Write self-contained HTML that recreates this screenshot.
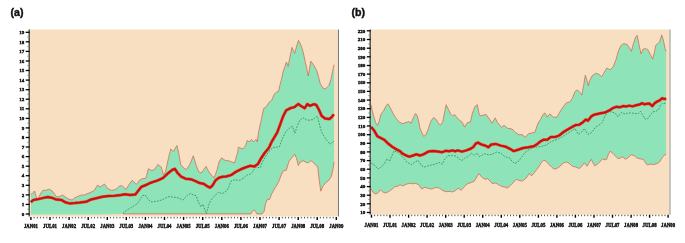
<!DOCTYPE html>
<html lang="en"><head><meta charset="utf-8"><title>Figure</title>
<style>html,body{margin:0;padding:0;background:#fff}svg{display:block}.t{font-family:"Liberation Serif",serif;font-weight:bold;fill:#111;stroke:#111;stroke-width:0.4px}.h{font-family:"Liberation Sans",sans-serif;font-weight:bold;fill:#111;font-size:10.6px;stroke:#111;stroke-width:0.4px}</style></head><body>
<svg width="685" height="243" viewBox="0 0 685 243">
<rect width="685" height="243" fill="#fff"/>
<text class="h" x="10.6" y="16.1">(a)</text>
<text class="h" x="351.6" y="16.1">(b)</text>
<rect x="29.5" y="29.5" width="308.5" height="187.0" fill="#F8DFC1"/>
<polygon points="30.9,194.4 32.3,193.6 34.6,191.0 35.8,195.3 37.0,198.4 38.4,198.4 40.5,193.6 43.2,190.1 45.3,190.5 47.0,189.8 49.6,189.2 52.2,191.0 54.8,194.4 56.5,196.7 59.1,196.7 62.6,195.0 65.2,197.0 68.7,199.1 72.1,200.1 74.7,197.9 78.2,196.2 81.6,195.0 84.2,195.0 86.5,194.0 90.1,192.6 94.2,190.5 97.3,185.4 100.4,186.8 104.5,184.0 107.6,188.5 111.7,190.5 115.8,189.5 118.9,186.4 121.9,185.4 126.0,189.5 129.1,184.4 132.2,180.3 136.3,184.4 139.4,180.3 142.5,178.6 146.0,178.2 148.3,168.8 151.8,170.5 154.4,169.7 157.8,164.5 161.3,167.1 163.4,174.9 165.6,171.4 168.2,159.3 170.8,148.9 173.4,151.5 176.9,145.5 178.6,152.4 180.7,164.5 183.8,168.0 186.4,169.7 189.8,164.5 193.3,155.8 195.9,164.5 198.5,171.4 201.1,173.1 203.5,169.9 206.1,166.4 208.7,171.6 212.1,176.0 214.4,177.7 217.3,169.0 219.0,162.1 221.6,157.8 225.1,160.4 228.5,160.7 232.0,162.1 234.6,163.0 236.3,156.9 237.8,152.0 238.3,147.2 240.4,148.1 243.0,148.9 245.6,145.5 247.3,140.3 249.0,142.0 251.6,139.4 253.4,142.0 256.0,139.4 257.3,142.0 258.5,132.5 261.1,120.4 262.9,112.0 263.8,108.3 266.4,106.6 269.0,102.3 271.6,100.5 274.2,94.5 275.9,92.4 278.5,91.4 280.2,84.1 282.0,77.2 283.0,72.0 284.7,67.2 286.4,62.0 288.1,66.3 289.8,57.7 291.9,47.3 294.7,53.4 296.8,45.6 298.5,40.4 301.1,45.6 303.3,52.5 305.4,62.9 306.4,66.4 308.2,75.9 309.4,69.8 310.8,61.2 313.4,64.7 316.8,70.7 318.5,76.8 320.3,83.7 322.9,88.0 325.5,88.9 328.9,85.4 331.2,78.5 332.9,69.8 334.1,64.7 334.1,162.1 333.3,167.3 331.5,176.0 328.9,180.3 325.5,182.9 322.9,186.3 320.8,191.2 319.8,184.6 318.5,174.2 317.7,166.4 316.0,165.6 313.4,162.5 310.8,160.7 308.2,163.0 305.6,162.1 303.0,160.7 300.4,162.1 298.3,165.6 296.6,158.7 294.8,154.3 292.6,156.9 290.7,159.0 288.9,161.6 286.3,170.2 282.9,171.1 281.1,175.4 278.5,182.3 275.1,187.8 271.7,193.8 269.6,199.4 267.4,199.4 265.6,203.4 264.2,211.1 262.2,213.9 256.8,213.9 255.4,211.3 254.1,209.6 252.6,211.3 250.9,213.9 123.0,213.9 100.0,214.5 30.9,214.5" fill="#8FE3B8"/>
<polyline points="30.9,194.4 32.3,193.6 34.6,191.0 35.8,195.3 37.0,198.4 38.4,198.4 40.5,193.6 43.2,190.1 45.3,190.5 47.0,189.8 49.6,189.2 52.2,191.0 54.8,194.4 56.5,196.7 59.1,196.7 62.6,195.0 65.2,197.0 68.7,199.1 72.1,200.1 74.7,197.9 78.2,196.2 81.6,195.0 84.2,195.0 86.5,194.0 90.1,192.6 94.2,190.5 97.3,185.4 100.4,186.8 104.5,184.0 107.6,188.5 111.7,190.5 115.8,189.5 118.9,186.4 121.9,185.4 126.0,189.5 129.1,184.4 132.2,180.3 136.3,184.4 139.4,180.3 142.5,178.6 146.0,178.2 148.3,168.8 151.8,170.5 154.4,169.7 157.8,164.5 161.3,167.1 163.4,174.9 165.6,171.4 168.2,159.3 170.8,148.9 173.4,151.5 176.9,145.5 178.6,152.4 180.7,164.5 183.8,168.0 186.4,169.7 189.8,164.5 193.3,155.8 195.9,164.5 198.5,171.4 201.1,173.1 203.5,169.9 206.1,166.4 208.7,171.6 212.1,176.0 214.4,177.7 217.3,169.0 219.0,162.1 221.6,157.8 225.1,160.4 228.5,160.7 232.0,162.1 234.6,163.0 236.3,156.9 237.8,152.0 238.3,147.2 240.4,148.1 243.0,148.9 245.6,145.5 247.3,140.3 249.0,142.0 251.6,139.4 253.4,142.0 256.0,139.4 257.3,142.0 258.5,132.5 261.1,120.4 262.9,112.0 263.8,108.3 266.4,106.6 269.0,102.3 271.6,100.5 274.2,94.5 275.9,92.4 278.5,91.4 280.2,84.1 282.0,77.2 283.0,72.0 284.7,67.2 286.4,62.0 288.1,66.3 289.8,57.7 291.9,47.3 294.7,53.4 296.8,45.6 298.5,40.4 301.1,45.6 303.3,52.5 305.4,62.9 306.4,66.4 308.2,75.9 309.4,69.8 310.8,61.2 313.4,64.7 316.8,70.7 318.5,76.8 320.3,83.7 322.9,88.0 325.5,88.9 328.9,85.4 331.2,78.5 332.9,69.8 334.1,64.7" fill="none" stroke="#D85C48" stroke-width="0.7" stroke-linejoin="round"/>
<polyline points="123.0,213.9 250.9,213.9 252.6,211.3 254.1,209.6 255.4,211.3 256.8,213.9 262.2,213.9 264.2,211.1 265.6,203.4 267.4,199.4 269.6,199.4 271.7,193.8 275.1,187.8 278.5,182.3 281.1,175.4 282.9,171.1 286.3,170.2 288.9,161.6 290.7,159.0 292.6,156.9 294.8,154.3 296.6,158.7 298.3,165.6 300.4,162.1 303.0,160.7 305.6,162.1 308.2,163.0 310.8,160.7 313.4,162.5 316.0,165.6 317.7,166.4 318.5,174.2 319.8,184.6 320.8,191.2 322.9,186.3 325.5,182.9 328.9,180.3 331.5,176.0 333.3,167.3 334.1,162.1" fill="none" stroke="#D85C48" stroke-width="0.7" stroke-linejoin="round"/>
<polyline points="123.0,213.5 127.0,210.0 132.2,207.0 137.3,203.9 140.4,198.7 142.5,195.7 145.0,194.8 147.5,198.8 150.9,201.9 156.1,201.4 161.3,200.1 168.2,196.7 173.4,197.0 178.6,197.9 182.9,200.1 187.3,195.3 190.4,193.6 194.2,195.3 196.0,195.6 198.6,202.5 200.8,206.8 202.9,204.2 205.5,212.0 206.4,213.7 209.0,204.2 211.6,199.0 215.0,195.6 218.5,192.1 222.0,193.8 226.3,191.2 228.9,186.9 231.1,181.1 234.6,179.8 239.8,180.3 243.3,178.5 246.7,175.1 250.2,174.2 252.6,172.0 255.2,167.6 260.4,167.6 262.1,162.4 265.6,156.4 269.0,151.2 273.4,147.4 279.4,146.9 282.4,138.6 285.8,131.7 289.3,128.2 292.4,126.1 294.8,133.4 297.1,126.5 299.7,120.4 303.1,117.8 307.5,120.4 312.7,119.6 317.3,116.1 319.1,123.0 320.6,129.0 322.0,132.9 324.6,137.2 327.2,140.7 330.1,144.2 332.4,142.4 334.0,141.0" fill="none" stroke="#1E8C4E" stroke-width="0.8" stroke-dasharray="1.7 1.3"/>
<polyline points="30.9,202.2 33.2,200.1 38.4,199.1 43.6,197.9 47.9,197.0 52.2,197.9 56.5,199.6 61.7,200.1 65.2,202.2 69.5,203.4 74.7,203.1 79.9,202.6 86.0,201.8 90.1,199.8 96.3,198.3 102.4,196.7 108.6,196.1 114.7,195.7 120.9,195.0 125.0,194.2 130.1,195.0 135.3,194.6 138.4,190.5 141.4,186.8 146.0,185.0 150.9,182.7 157.8,180.4 163.0,178.0 168.2,173.1 172.5,169.7 174.8,168.8 177.7,173.1 181.2,176.6 185.5,178.7 190.7,179.2 195.0,180.9 199.4,183.0 203.5,183.7 206.9,186.0 210.0,187.7 212.5,185.5 215.6,180.3 219.0,177.7 222.5,176.8 226.0,176.5 231.1,175.1 236.3,171.6 241.5,169.0 245.8,167.3 250.2,165.8 254.3,166.4 257.8,164.2 261.2,158.1 264.7,152.9 269.0,147.7 272.0,141.2 277.2,132.5 280.7,123.0 283.2,116.1 286.2,110.3 290.0,108.3 294.4,107.1 298.3,104.0 301.3,106.2 304.7,108.2 307.3,104.1 309.9,105.8 314.0,104.2 316.3,105.0 318.7,109.2 321.6,115.9 325.1,118.5 329.4,119.1 332.0,116.8 333.7,114.2" fill="none" stroke="#E2553C" stroke-width="3.0" stroke-linejoin="round" stroke-linecap="butt"/>
<polyline points="30.9,202.2 33.2,200.1 38.4,199.1 43.6,197.9 47.9,197.0 52.2,197.9 56.5,199.6 61.7,200.1 65.2,202.2 69.5,203.4 74.7,203.1 79.9,202.6 86.0,201.8 90.1,199.8 96.3,198.3 102.4,196.7 108.6,196.1 114.7,195.7 120.9,195.0 125.0,194.2 130.1,195.0 135.3,194.6 138.4,190.5 141.4,186.8 146.0,185.0 150.9,182.7 157.8,180.4 163.0,178.0 168.2,173.1 172.5,169.7 174.8,168.8 177.7,173.1 181.2,176.6 185.5,178.7 190.7,179.2 195.0,180.9 199.4,183.0 203.5,183.7 206.9,186.0 210.0,187.7 212.5,185.5 215.6,180.3 219.0,177.7 222.5,176.8 226.0,176.5 231.1,175.1 236.3,171.6 241.5,169.0 245.8,167.3 250.2,165.8 254.3,166.4 257.8,164.2 261.2,158.1 264.7,152.9 269.0,147.7 272.0,141.2 277.2,132.5 280.7,123.0 283.2,116.1 286.2,110.3 290.0,108.3 294.4,107.1 298.3,104.0 301.3,106.2 304.7,108.2 307.3,104.1 309.9,105.8 314.0,104.2 316.3,105.0 318.7,109.2 321.6,115.9 325.1,118.5 329.4,119.1 332.0,116.8 333.7,114.2" fill="none" stroke="#CC0F0F" stroke-width="2.0" stroke-linejoin="round" stroke-linecap="butt"/>
<line x1="338.5" y1="29.5" x2="338.5" y2="216.5" stroke="#555" stroke-width="0.8"/>
<line x1="29.15" y1="29.5" x2="29.15" y2="216.5" stroke="#000" stroke-width="1"/>
<line x1="25.7" y1="214.0" x2="29.5" y2="214.0" stroke="#000" stroke-width="1.3"/>
<text class="t" x="24.3" y="215.7" font-size="5.0" text-anchor="end">0</text>
<line x1="27.3" y1="209.2" x2="29.5" y2="209.2" stroke="#777" stroke-width="0.8"/>
<line x1="25.7" y1="204.4" x2="29.5" y2="204.4" stroke="#000" stroke-width="1.3"/>
<text class="t" x="24.3" y="206.1" font-size="5.0" text-anchor="end">1</text>
<line x1="27.3" y1="199.7" x2="29.5" y2="199.7" stroke="#777" stroke-width="0.8"/>
<line x1="25.7" y1="194.9" x2="29.5" y2="194.9" stroke="#000" stroke-width="1.3"/>
<text class="t" x="24.3" y="196.5" font-size="5.0" text-anchor="end">2</text>
<line x1="27.3" y1="190.1" x2="29.5" y2="190.1" stroke="#777" stroke-width="0.8"/>
<line x1="25.7" y1="185.3" x2="29.5" y2="185.3" stroke="#000" stroke-width="1.3"/>
<text class="t" x="24.3" y="187.0" font-size="5.0" text-anchor="end">3</text>
<line x1="27.3" y1="180.5" x2="29.5" y2="180.5" stroke="#777" stroke-width="0.8"/>
<line x1="25.7" y1="175.7" x2="29.5" y2="175.7" stroke="#000" stroke-width="1.3"/>
<text class="t" x="24.3" y="177.4" font-size="5.0" text-anchor="end">4</text>
<line x1="27.3" y1="171.0" x2="29.5" y2="171.0" stroke="#777" stroke-width="0.8"/>
<line x1="25.7" y1="166.2" x2="29.5" y2="166.2" stroke="#000" stroke-width="1.3"/>
<text class="t" x="24.3" y="167.8" font-size="5.0" text-anchor="end">5</text>
<line x1="27.3" y1="161.4" x2="29.5" y2="161.4" stroke="#777" stroke-width="0.8"/>
<line x1="25.7" y1="156.6" x2="29.5" y2="156.6" stroke="#000" stroke-width="1.3"/>
<text class="t" x="24.3" y="158.3" font-size="5.0" text-anchor="end">6</text>
<line x1="27.3" y1="151.8" x2="29.5" y2="151.8" stroke="#777" stroke-width="0.8"/>
<line x1="25.7" y1="147.0" x2="29.5" y2="147.0" stroke="#000" stroke-width="1.3"/>
<text class="t" x="24.3" y="148.7" font-size="5.0" text-anchor="end">7</text>
<line x1="27.3" y1="142.3" x2="29.5" y2="142.3" stroke="#777" stroke-width="0.8"/>
<line x1="25.7" y1="137.5" x2="29.5" y2="137.5" stroke="#000" stroke-width="1.3"/>
<text class="t" x="24.3" y="139.1" font-size="5.0" text-anchor="end">8</text>
<line x1="27.3" y1="132.7" x2="29.5" y2="132.7" stroke="#777" stroke-width="0.8"/>
<line x1="25.7" y1="127.9" x2="29.5" y2="127.9" stroke="#000" stroke-width="1.3"/>
<text class="t" x="24.3" y="129.6" font-size="5.0" text-anchor="end">9</text>
<line x1="27.3" y1="123.1" x2="29.5" y2="123.1" stroke="#777" stroke-width="0.8"/>
<line x1="25.7" y1="118.4" x2="29.5" y2="118.4" stroke="#000" stroke-width="1.3"/>
<text class="t" x="24.3" y="120.0" font-size="5.0" text-anchor="end">10</text>
<line x1="27.3" y1="113.6" x2="29.5" y2="113.6" stroke="#777" stroke-width="0.8"/>
<line x1="25.7" y1="108.8" x2="29.5" y2="108.8" stroke="#000" stroke-width="1.3"/>
<text class="t" x="24.3" y="110.4" font-size="5.0" text-anchor="end">11</text>
<line x1="27.3" y1="104.0" x2="29.5" y2="104.0" stroke="#777" stroke-width="0.8"/>
<line x1="25.7" y1="99.2" x2="29.5" y2="99.2" stroke="#000" stroke-width="1.3"/>
<text class="t" x="24.3" y="100.9" font-size="5.0" text-anchor="end">12</text>
<line x1="27.3" y1="94.4" x2="29.5" y2="94.4" stroke="#777" stroke-width="0.8"/>
<line x1="25.7" y1="89.7" x2="29.5" y2="89.7" stroke="#000" stroke-width="1.3"/>
<text class="t" x="24.3" y="91.3" font-size="5.0" text-anchor="end">13</text>
<line x1="27.3" y1="84.9" x2="29.5" y2="84.9" stroke="#777" stroke-width="0.8"/>
<line x1="25.7" y1="80.1" x2="29.5" y2="80.1" stroke="#000" stroke-width="1.3"/>
<text class="t" x="24.3" y="81.7" font-size="5.0" text-anchor="end">14</text>
<line x1="27.3" y1="75.3" x2="29.5" y2="75.3" stroke="#777" stroke-width="0.8"/>
<line x1="25.7" y1="70.5" x2="29.5" y2="70.5" stroke="#000" stroke-width="1.3"/>
<text class="t" x="24.3" y="72.2" font-size="5.0" text-anchor="end">15</text>
<line x1="27.3" y1="65.7" x2="29.5" y2="65.7" stroke="#777" stroke-width="0.8"/>
<line x1="25.7" y1="61.0" x2="29.5" y2="61.0" stroke="#000" stroke-width="1.3"/>
<text class="t" x="24.3" y="62.6" font-size="5.0" text-anchor="end">16</text>
<line x1="27.3" y1="56.2" x2="29.5" y2="56.2" stroke="#777" stroke-width="0.8"/>
<line x1="25.7" y1="51.4" x2="29.5" y2="51.4" stroke="#000" stroke-width="1.3"/>
<text class="t" x="24.3" y="53.0" font-size="5.0" text-anchor="end">17</text>
<line x1="27.3" y1="46.6" x2="29.5" y2="46.6" stroke="#777" stroke-width="0.8"/>
<line x1="25.7" y1="41.8" x2="29.5" y2="41.8" stroke="#000" stroke-width="1.3"/>
<text class="t" x="24.3" y="43.5" font-size="5.0" text-anchor="end">18</text>
<line x1="27.3" y1="37.0" x2="29.5" y2="37.0" stroke="#777" stroke-width="0.8"/>
<line x1="25.7" y1="32.3" x2="29.5" y2="32.3" stroke="#000" stroke-width="1.3"/>
<text class="t" x="24.3" y="33.9" font-size="5.0" text-anchor="end">19</text>
<line x1="30.9" y1="216.9" x2="30.9" y2="219.9" stroke="#000" stroke-width="1.4"/>
<text class="t" x="30.9" y="227.8" font-size="5.5" text-anchor="middle" textLength="14" lengthAdjust="spacingAndGlyphs">JAN01</text>
<line x1="34.1" y1="216.9" x2="34.1" y2="218.4" stroke="#222" stroke-width="0.8"/>
<line x1="37.3" y1="216.9" x2="37.3" y2="218.4" stroke="#222" stroke-width="0.8"/>
<line x1="40.4" y1="216.9" x2="40.4" y2="218.4" stroke="#222" stroke-width="0.8"/>
<line x1="43.6" y1="216.9" x2="43.6" y2="218.4" stroke="#222" stroke-width="0.8"/>
<line x1="46.8" y1="216.9" x2="46.8" y2="218.4" stroke="#222" stroke-width="0.8"/>
<line x1="50.0" y1="216.9" x2="50.0" y2="219.9" stroke="#000" stroke-width="1.4"/>
<text class="t" x="50.0" y="227.8" font-size="5.5" text-anchor="middle" textLength="14" lengthAdjust="spacingAndGlyphs">JUL01</text>
<line x1="53.2" y1="216.9" x2="53.2" y2="218.4" stroke="#222" stroke-width="0.8"/>
<line x1="56.4" y1="216.9" x2="56.4" y2="218.4" stroke="#222" stroke-width="0.8"/>
<line x1="59.5" y1="216.9" x2="59.5" y2="218.4" stroke="#222" stroke-width="0.8"/>
<line x1="62.7" y1="216.9" x2="62.7" y2="218.4" stroke="#222" stroke-width="0.8"/>
<line x1="65.9" y1="216.9" x2="65.9" y2="218.4" stroke="#222" stroke-width="0.8"/>
<line x1="69.1" y1="216.9" x2="69.1" y2="219.9" stroke="#000" stroke-width="1.4"/>
<text class="t" x="69.1" y="227.8" font-size="5.5" text-anchor="middle" textLength="14" lengthAdjust="spacingAndGlyphs">JAN02</text>
<line x1="72.3" y1="216.9" x2="72.3" y2="218.4" stroke="#222" stroke-width="0.8"/>
<line x1="75.4" y1="216.9" x2="75.4" y2="218.4" stroke="#222" stroke-width="0.8"/>
<line x1="78.6" y1="216.9" x2="78.6" y2="218.4" stroke="#222" stroke-width="0.8"/>
<line x1="81.8" y1="216.9" x2="81.8" y2="218.4" stroke="#222" stroke-width="0.8"/>
<line x1="85.0" y1="216.9" x2="85.0" y2="218.4" stroke="#222" stroke-width="0.8"/>
<line x1="88.2" y1="216.9" x2="88.2" y2="219.9" stroke="#000" stroke-width="1.4"/>
<text class="t" x="88.2" y="227.8" font-size="5.5" text-anchor="middle" textLength="14" lengthAdjust="spacingAndGlyphs">JUL02</text>
<line x1="91.4" y1="216.9" x2="91.4" y2="218.4" stroke="#222" stroke-width="0.8"/>
<line x1="94.5" y1="216.9" x2="94.5" y2="218.4" stroke="#222" stroke-width="0.8"/>
<line x1="97.7" y1="216.9" x2="97.7" y2="218.4" stroke="#222" stroke-width="0.8"/>
<line x1="100.9" y1="216.9" x2="100.9" y2="218.4" stroke="#222" stroke-width="0.8"/>
<line x1="104.1" y1="216.9" x2="104.1" y2="218.4" stroke="#222" stroke-width="0.8"/>
<line x1="107.3" y1="216.9" x2="107.3" y2="219.9" stroke="#000" stroke-width="1.4"/>
<text class="t" x="107.3" y="227.8" font-size="5.5" text-anchor="middle" textLength="14" lengthAdjust="spacingAndGlyphs">JAN03</text>
<line x1="110.4" y1="216.9" x2="110.4" y2="218.4" stroke="#222" stroke-width="0.8"/>
<line x1="113.6" y1="216.9" x2="113.6" y2="218.4" stroke="#222" stroke-width="0.8"/>
<line x1="116.8" y1="216.9" x2="116.8" y2="218.4" stroke="#222" stroke-width="0.8"/>
<line x1="120.0" y1="216.9" x2="120.0" y2="218.4" stroke="#222" stroke-width="0.8"/>
<line x1="123.2" y1="216.9" x2="123.2" y2="218.4" stroke="#222" stroke-width="0.8"/>
<line x1="126.3" y1="216.9" x2="126.3" y2="219.9" stroke="#000" stroke-width="1.4"/>
<text class="t" x="126.3" y="227.8" font-size="5.5" text-anchor="middle" textLength="14" lengthAdjust="spacingAndGlyphs">JUL03</text>
<line x1="129.5" y1="216.9" x2="129.5" y2="218.4" stroke="#222" stroke-width="0.8"/>
<line x1="132.7" y1="216.9" x2="132.7" y2="218.4" stroke="#222" stroke-width="0.8"/>
<line x1="135.9" y1="216.9" x2="135.9" y2="218.4" stroke="#222" stroke-width="0.8"/>
<line x1="139.1" y1="216.9" x2="139.1" y2="218.4" stroke="#222" stroke-width="0.8"/>
<line x1="142.3" y1="216.9" x2="142.3" y2="218.4" stroke="#222" stroke-width="0.8"/>
<line x1="145.4" y1="216.9" x2="145.4" y2="219.9" stroke="#000" stroke-width="1.4"/>
<text class="t" x="145.4" y="227.8" font-size="5.5" text-anchor="middle" textLength="14" lengthAdjust="spacingAndGlyphs">JAN04</text>
<line x1="148.6" y1="216.9" x2="148.6" y2="218.4" stroke="#222" stroke-width="0.8"/>
<line x1="151.8" y1="216.9" x2="151.8" y2="218.4" stroke="#222" stroke-width="0.8"/>
<line x1="155.0" y1="216.9" x2="155.0" y2="218.4" stroke="#222" stroke-width="0.8"/>
<line x1="158.2" y1="216.9" x2="158.2" y2="218.4" stroke="#222" stroke-width="0.8"/>
<line x1="161.3" y1="216.9" x2="161.3" y2="218.4" stroke="#222" stroke-width="0.8"/>
<line x1="164.5" y1="216.9" x2="164.5" y2="219.9" stroke="#000" stroke-width="1.4"/>
<text class="t" x="164.5" y="227.8" font-size="5.5" text-anchor="middle" textLength="14" lengthAdjust="spacingAndGlyphs">JUL04</text>
<line x1="167.7" y1="216.9" x2="167.7" y2="218.4" stroke="#222" stroke-width="0.8"/>
<line x1="170.9" y1="216.9" x2="170.9" y2="218.4" stroke="#222" stroke-width="0.8"/>
<line x1="174.1" y1="216.9" x2="174.1" y2="218.4" stroke="#222" stroke-width="0.8"/>
<line x1="177.3" y1="216.9" x2="177.3" y2="218.4" stroke="#222" stroke-width="0.8"/>
<line x1="180.4" y1="216.9" x2="180.4" y2="218.4" stroke="#222" stroke-width="0.8"/>
<line x1="183.6" y1="216.9" x2="183.6" y2="219.9" stroke="#000" stroke-width="1.4"/>
<text class="t" x="183.6" y="227.8" font-size="5.5" text-anchor="middle" textLength="14" lengthAdjust="spacingAndGlyphs">JAN05</text>
<line x1="186.8" y1="216.9" x2="186.8" y2="218.4" stroke="#222" stroke-width="0.8"/>
<line x1="190.0" y1="216.9" x2="190.0" y2="218.4" stroke="#222" stroke-width="0.8"/>
<line x1="193.2" y1="216.9" x2="193.2" y2="218.4" stroke="#222" stroke-width="0.8"/>
<line x1="196.3" y1="216.9" x2="196.3" y2="218.4" stroke="#222" stroke-width="0.8"/>
<line x1="199.5" y1="216.9" x2="199.5" y2="218.4" stroke="#222" stroke-width="0.8"/>
<line x1="202.7" y1="216.9" x2="202.7" y2="219.9" stroke="#000" stroke-width="1.4"/>
<text class="t" x="202.7" y="227.8" font-size="5.5" text-anchor="middle" textLength="14" lengthAdjust="spacingAndGlyphs">JUL05</text>
<line x1="205.9" y1="216.9" x2="205.9" y2="218.4" stroke="#222" stroke-width="0.8"/>
<line x1="209.1" y1="216.9" x2="209.1" y2="218.4" stroke="#222" stroke-width="0.8"/>
<line x1="212.3" y1="216.9" x2="212.3" y2="218.4" stroke="#222" stroke-width="0.8"/>
<line x1="215.4" y1="216.9" x2="215.4" y2="218.4" stroke="#222" stroke-width="0.8"/>
<line x1="218.6" y1="216.9" x2="218.6" y2="218.4" stroke="#222" stroke-width="0.8"/>
<line x1="221.8" y1="216.9" x2="221.8" y2="219.9" stroke="#000" stroke-width="1.4"/>
<text class="t" x="221.8" y="227.8" font-size="5.5" text-anchor="middle" textLength="14" lengthAdjust="spacingAndGlyphs">JAN06</text>
<line x1="225.0" y1="216.9" x2="225.0" y2="218.4" stroke="#222" stroke-width="0.8"/>
<line x1="228.2" y1="216.9" x2="228.2" y2="218.4" stroke="#222" stroke-width="0.8"/>
<line x1="231.3" y1="216.9" x2="231.3" y2="218.4" stroke="#222" stroke-width="0.8"/>
<line x1="234.5" y1="216.9" x2="234.5" y2="218.4" stroke="#222" stroke-width="0.8"/>
<line x1="237.7" y1="216.9" x2="237.7" y2="218.4" stroke="#222" stroke-width="0.8"/>
<line x1="240.9" y1="216.9" x2="240.9" y2="219.9" stroke="#000" stroke-width="1.4"/>
<text class="t" x="240.9" y="227.8" font-size="5.5" text-anchor="middle" textLength="14" lengthAdjust="spacingAndGlyphs">JUL06</text>
<line x1="244.1" y1="216.9" x2="244.1" y2="218.4" stroke="#222" stroke-width="0.8"/>
<line x1="247.3" y1="216.9" x2="247.3" y2="218.4" stroke="#222" stroke-width="0.8"/>
<line x1="250.4" y1="216.9" x2="250.4" y2="218.4" stroke="#222" stroke-width="0.8"/>
<line x1="253.6" y1="216.9" x2="253.6" y2="218.4" stroke="#222" stroke-width="0.8"/>
<line x1="256.8" y1="216.9" x2="256.8" y2="218.4" stroke="#222" stroke-width="0.8"/>
<line x1="260.0" y1="216.9" x2="260.0" y2="219.9" stroke="#000" stroke-width="1.4"/>
<text class="t" x="260.0" y="227.8" font-size="5.5" text-anchor="middle" textLength="14" lengthAdjust="spacingAndGlyphs">JAN07</text>
<line x1="263.2" y1="216.9" x2="263.2" y2="218.4" stroke="#222" stroke-width="0.8"/>
<line x1="266.3" y1="216.9" x2="266.3" y2="218.4" stroke="#222" stroke-width="0.8"/>
<line x1="269.5" y1="216.9" x2="269.5" y2="218.4" stroke="#222" stroke-width="0.8"/>
<line x1="272.7" y1="216.9" x2="272.7" y2="218.4" stroke="#222" stroke-width="0.8"/>
<line x1="275.9" y1="216.9" x2="275.9" y2="218.4" stroke="#222" stroke-width="0.8"/>
<line x1="279.1" y1="216.9" x2="279.1" y2="219.9" stroke="#000" stroke-width="1.4"/>
<text class="t" x="279.1" y="227.8" font-size="5.5" text-anchor="middle" textLength="14" lengthAdjust="spacingAndGlyphs">JUL07</text>
<line x1="282.3" y1="216.9" x2="282.3" y2="218.4" stroke="#222" stroke-width="0.8"/>
<line x1="285.4" y1="216.9" x2="285.4" y2="218.4" stroke="#222" stroke-width="0.8"/>
<line x1="288.6" y1="216.9" x2="288.6" y2="218.4" stroke="#222" stroke-width="0.8"/>
<line x1="291.8" y1="216.9" x2="291.8" y2="218.4" stroke="#222" stroke-width="0.8"/>
<line x1="295.0" y1="216.9" x2="295.0" y2="218.4" stroke="#222" stroke-width="0.8"/>
<line x1="298.2" y1="216.9" x2="298.2" y2="219.9" stroke="#000" stroke-width="1.4"/>
<text class="t" x="298.2" y="227.8" font-size="5.5" text-anchor="middle" textLength="14" lengthAdjust="spacingAndGlyphs">JAN08</text>
<line x1="301.3" y1="216.9" x2="301.3" y2="218.4" stroke="#222" stroke-width="0.8"/>
<line x1="304.5" y1="216.9" x2="304.5" y2="218.4" stroke="#222" stroke-width="0.8"/>
<line x1="307.7" y1="216.9" x2="307.7" y2="218.4" stroke="#222" stroke-width="0.8"/>
<line x1="310.9" y1="216.9" x2="310.9" y2="218.4" stroke="#222" stroke-width="0.8"/>
<line x1="314.1" y1="216.9" x2="314.1" y2="218.4" stroke="#222" stroke-width="0.8"/>
<line x1="317.2" y1="216.9" x2="317.2" y2="219.9" stroke="#000" stroke-width="1.4"/>
<text class="t" x="317.2" y="227.8" font-size="5.5" text-anchor="middle" textLength="14" lengthAdjust="spacingAndGlyphs">JUL08</text>
<line x1="320.4" y1="216.9" x2="320.4" y2="218.4" stroke="#222" stroke-width="0.8"/>
<line x1="323.6" y1="216.9" x2="323.6" y2="218.4" stroke="#222" stroke-width="0.8"/>
<line x1="326.8" y1="216.9" x2="326.8" y2="218.4" stroke="#222" stroke-width="0.8"/>
<line x1="330.0" y1="216.9" x2="330.0" y2="218.4" stroke="#222" stroke-width="0.8"/>
<line x1="333.2" y1="216.9" x2="333.2" y2="218.4" stroke="#222" stroke-width="0.8"/>
<line x1="336.3" y1="216.9" x2="336.3" y2="219.9" stroke="#000" stroke-width="1.4"/>
<text class="t" x="336.3" y="227.8" font-size="5.5" text-anchor="middle" textLength="14" lengthAdjust="spacingAndGlyphs">JAN09</text>
<rect x="370.5" y="29.5" width="299.0" height="185.1" fill="#F8DFC1"/>
<polygon points="371.1,104.7 372.3,110.8 374.1,117.7 375.8,122.9 377.5,125.5 379.2,121.1 381.0,114.2 383.6,110.8 386.2,105.6 387.9,103.8 390.5,108.2 393.1,113.4 395.7,117.7 399.1,122.0 402.6,123.7 406.1,122.5 408.7,121.5 411.3,123.2 413.3,117.7 415.6,113.4 417.3,116.0 419.0,122.9 419.9,128.0 421.6,132.1 423.7,136.4 426.0,134.7 428.3,128.9 430.9,121.1 433.5,117.6 436.1,119.4 438.7,123.7 440.4,125.1 442.7,122.0 444.4,113.3 446.1,104.7 448.2,109.0 450.8,114.2 452.5,115.9 454.8,114.7 456.9,117.6 459.5,120.2 462.0,122.0 464.6,127.1 467.2,122.8 470.4,122.0 472.4,113.3 475.0,106.4 477.3,104.7 479.0,113.3 480.2,115.9 484.0,115.0 486.1,114.5 488.6,117.9 492.1,123.1 495.2,117.9 497.3,122.3 501.6,127.4 503.9,125.2 507.7,128.3 512.0,129.0 515.4,132.3 518.9,134.7 522.4,134.7 525.3,137.3 528.4,133.8 531.9,133.0 535.0,132.1 536.7,126.9 537.9,123.5 540.3,119.8 542.9,114.6 545.0,112.9 547.2,117.2 549.8,113.8 553.3,117.2 556.8,117.2 559.3,112.9 561.9,108.6 563.7,106.2 566.3,102.9 569.7,102.0 572.3,98.5 574.9,91.6 577.5,89.9 580.1,92.5 581.8,95.1 583.6,85.6 585.3,75.2 587.0,80.4 588.3,85.9 589.8,80.2 592.1,75.9 595.5,73.3 599.0,74.2 601.6,76.8 604.2,72.4 606.8,68.1 610.2,69.8 613.5,66.2 616.0,59.5 618.5,50.5 621.1,45.3 623.7,43.6 627.2,44.4 629.4,47.9 631.4,51.3 633.4,43.6 635.5,37.5 637.2,35.3 638.8,43.6 641.0,53.9 643.0,49.3 645.5,48.4 648.1,50.0 650.9,55.7 652.7,59.1 654.4,52.2 655.8,45.3 657.9,43.6 659.6,41.8 661.7,34.9 663.4,40.1 665.1,48.8 666.2,51.3 666.2,154.2 664.8,155.0 662.2,157.6 659.6,161.9 657.0,163.7 653.5,164.5 650.0,164.1 647.4,165.1 645.5,162.8 643.4,159.3 640.0,158.9 636.6,157.8 634.0,155.6 631.2,154.7 628.4,157.6 625.2,159.3 622.8,156.8 620.5,158.1 617.9,158.5 615.3,155.9 612.8,153.3 610.2,151.2 608.4,154.2 606.7,159.3 605.0,159.9 602.4,158.8 599.8,161.9 597.2,164.5 594.6,165.7 592.5,162.0 591.3,159.3 589.6,161.9 587.0,166.3 584.4,162.8 581.8,166.3 579.2,168.5 575.8,167.1 572.3,166.3 569.7,163.7 566.3,161.9 562.8,163.3 560.2,166.3 557.6,168.0 554.2,169.2 551.6,167.1 549.0,164.5 546.4,161.6 543.8,160.2 541.2,162.8 538.6,167.1 537.1,169.0 534.5,172.5 531.5,175.9 529.3,173.4 525.8,178.5 522.4,181.1 518.9,180.3 516.3,179.4 512.9,182.9 510.3,185.5 507.7,188.0 505.1,187.2 501.6,186.3 498.2,184.6 495.6,182.9 493.0,183.7 491.2,182.5 487.8,178.5 485.2,179.4 482.6,177.7 481.1,176.5 479.0,173.5 476.8,177.0 474.2,181.3 470.7,182.7 467.2,183.9 463.8,187.3 461.2,190.3 458.2,188.2 455.1,190.8 452.5,192.0 449.9,191.3 446.5,191.7 443.0,190.8 439.6,188.2 436.1,187.3 431.8,189.1 427.5,188.2 425.1,187.2 421.6,189.0 419.0,185.0 415.6,183.3 412.6,183.8 409.5,183.3 406.1,184.3 402.6,186.0 400.0,184.7 397.4,186.4 394.8,186.7 392.2,189.0 388.8,191.6 385.3,193.0 382.7,191.9 380.5,189.8 378.4,192.4 375.8,194.2 373.2,192.4 371.1,189.0" fill="#8FE3B8"/>
<polyline points="371.1,104.7 372.3,110.8 374.1,117.7 375.8,122.9 377.5,125.5 379.2,121.1 381.0,114.2 383.6,110.8 386.2,105.6 387.9,103.8 390.5,108.2 393.1,113.4 395.7,117.7 399.1,122.0 402.6,123.7 406.1,122.5 408.7,121.5 411.3,123.2 413.3,117.7 415.6,113.4 417.3,116.0 419.0,122.9 419.9,128.0 421.6,132.1 423.7,136.4 426.0,134.7 428.3,128.9 430.9,121.1 433.5,117.6 436.1,119.4 438.7,123.7 440.4,125.1 442.7,122.0 444.4,113.3 446.1,104.7 448.2,109.0 450.8,114.2 452.5,115.9 454.8,114.7 456.9,117.6 459.5,120.2 462.0,122.0 464.6,127.1 467.2,122.8 470.4,122.0 472.4,113.3 475.0,106.4 477.3,104.7 479.0,113.3 480.2,115.9 484.0,115.0 486.1,114.5 488.6,117.9 492.1,123.1 495.2,117.9 497.3,122.3 501.6,127.4 503.9,125.2 507.7,128.3 512.0,129.0 515.4,132.3 518.9,134.7 522.4,134.7 525.3,137.3 528.4,133.8 531.9,133.0 535.0,132.1 536.7,126.9 537.9,123.5 540.3,119.8 542.9,114.6 545.0,112.9 547.2,117.2 549.8,113.8 553.3,117.2 556.8,117.2 559.3,112.9 561.9,108.6 563.7,106.2 566.3,102.9 569.7,102.0 572.3,98.5 574.9,91.6 577.5,89.9 580.1,92.5 581.8,95.1 583.6,85.6 585.3,75.2 587.0,80.4 588.3,85.9 589.8,80.2 592.1,75.9 595.5,73.3 599.0,74.2 601.6,76.8 604.2,72.4 606.8,68.1 610.2,69.8 613.5,66.2 616.0,59.5 618.5,50.5 621.1,45.3 623.7,43.6 627.2,44.4 629.4,47.9 631.4,51.3 633.4,43.6 635.5,37.5 637.2,35.3 638.8,43.6 641.0,53.9 643.0,49.3 645.5,48.4 648.1,50.0 650.9,55.7 652.7,59.1 654.4,52.2 655.8,45.3 657.9,43.6 659.6,41.8 661.7,34.9 663.4,40.1 665.1,48.8 666.2,51.3" fill="none" stroke="#D85C48" stroke-width="0.7" stroke-linejoin="round"/>
<polyline points="371.1,189.0 373.2,192.4 375.8,194.2 378.4,192.4 380.5,189.8 382.7,191.9 385.3,193.0 388.8,191.6 392.2,189.0 394.8,186.7 397.4,186.4 400.0,184.7 402.6,186.0 406.1,184.3 409.5,183.3 412.6,183.8 415.6,183.3 419.0,185.0 421.6,189.0 425.1,187.2 427.5,188.2 431.8,189.1 436.1,187.3 439.6,188.2 443.0,190.8 446.5,191.7 449.9,191.3 452.5,192.0 455.1,190.8 458.2,188.2 461.2,190.3 463.8,187.3 467.2,183.9 470.7,182.7 474.2,181.3 476.8,177.0 479.0,173.5 481.1,176.5 482.6,177.7 485.2,179.4 487.8,178.5 491.2,182.5 493.0,183.7 495.6,182.9 498.2,184.6 501.6,186.3 505.1,187.2 507.7,188.0 510.3,185.5 512.9,182.9 516.3,179.4 518.9,180.3 522.4,181.1 525.8,178.5 529.3,173.4 531.5,175.9 534.5,172.5 537.1,169.0 538.6,167.1 541.2,162.8 543.8,160.2 546.4,161.6 549.0,164.5 551.6,167.1 554.2,169.2 557.6,168.0 560.2,166.3 562.8,163.3 566.3,161.9 569.7,163.7 572.3,166.3 575.8,167.1 579.2,168.5 581.8,166.3 584.4,162.8 587.0,166.3 589.6,161.9 591.3,159.3 592.5,162.0 594.6,165.7 597.2,164.5 599.8,161.9 602.4,158.8 605.0,159.9 606.7,159.3 608.4,154.2 610.2,151.2 612.8,153.3 615.3,155.9 617.9,158.5 620.5,158.1 622.8,156.8 625.2,159.3 628.4,157.6 631.2,154.7 634.0,155.6 636.6,157.8 640.0,158.9 643.4,159.3 645.5,162.8 647.4,165.1 650.0,164.1 653.5,164.5 657.0,163.7 659.6,161.9 662.2,157.6 664.8,155.0 666.2,154.2" fill="none" stroke="#D85C48" stroke-width="0.7" stroke-linejoin="round"/>
<polyline points="371.1,163.0 374.9,165.6 378.0,169.0 381.0,167.3 384.4,163.8 387.0,158.7 389.6,161.2 391.4,156.9 394.0,150.9 398.3,152.6 402.6,156.9 406.9,162.1 411.3,164.7 414.7,162.1 418.2,160.4 421.6,165.6 424.2,167.1 429.2,165.5 434.4,164.3 439.6,162.5 442.2,164.3 444.8,159.1 448.2,155.6 452.5,155.6 456.0,156.1 458.6,158.2 461.2,160.8 464.6,158.2 468.1,156.5 471.6,153.0 474.2,155.6 476.8,153.0 479.3,156.5 481.5,155.5 484.3,153.8 488.6,154.8 492.1,154.3 496.4,152.1 500.8,153.1 504.2,156.1 506.8,157.3 509.4,157.8 512.0,161.2 514.6,163.5 517.2,162.5 519.8,159.5 522.4,156.1 525.0,152.6 529.3,149.4 533.6,147.7 537.9,146.8 541.2,146.6 546.4,144.9 551.6,141.4 556.8,139.7 561.9,137.1 567.1,133.7 571.4,131.1 574.9,128.5 578.4,134.5 581.8,131.9 584.4,128.5 587.9,134.5 591.3,132.8 593.5,130.0 595.5,127.2 599.8,124.6 602.4,122.0 605.0,115.9 607.6,112.5 611.0,111.6 615.3,113.3 617.9,116.8 621.4,112.5 624.9,114.0 629.2,112.8 634.4,113.3 638.0,113.9 640.5,111.3 642.6,115.0 645.2,119.1 647.8,118.7 650.1,115.5 652.7,112.0 656.1,111.1 658.7,109.4 660.5,105.1 662.2,103.4 664.8,103.4 666.2,103.0" fill="none" stroke="#1E8C4E" stroke-width="0.8" stroke-dasharray="1.7 1.3"/>
<polyline points="371.1,127.0 374.1,130.4 377.5,136.4 381.0,138.2 384.4,139.9 387.9,143.4 392.2,146.8 396.5,149.4 400.0,151.1 402.6,153.7 406.1,155.5 409.5,156.7 413.0,155.5 416.4,154.3 419.9,155.5 423.4,154.4 428.3,151.6 432.6,151.0 437.8,151.6 442.2,152.2 445.6,150.8 449.1,151.3 452.5,150.4 455.1,151.3 457.7,150.4 462.0,151.6 466.4,150.4 470.7,148.7 473.3,147.0 475.9,143.5 478.0,142.6 481.1,144.4 484.0,145.2 486.1,145.9 488.3,147.3 491.2,144.6 495.6,143.9 500.8,145.6 505.9,146.8 510.3,149.0 513.7,151.1 518.0,149.7 523.2,148.0 528.4,147.3 533.6,146.3 537.1,144.2 540.3,141.5 543.8,139.7 547.2,139.7 550.7,137.1 555.0,137.1 559.3,135.4 563.7,131.9 568.0,129.3 572.3,126.8 575.8,125.0 579.2,124.7 582.7,122.4 585.8,119.5 587.9,120.7 591.3,116.4 593.9,114.8 596.3,114.2 600.6,113.3 605.0,112.5 609.3,110.4 612.8,108.2 616.2,106.8 619.7,107.3 623.1,106.1 626.6,106.4 629.2,105.6 632.6,106.4 636.1,105.2 639.6,104.5 642.0,103.2 644.5,104.4 646.8,103.8 649.2,103.4 652.3,106.1 654.4,103.4 657.0,101.6 659.6,100.4 662.2,98.2 663.9,99.0 666.2,98.7" fill="none" stroke="#E2553C" stroke-width="3.0" stroke-linejoin="round" stroke-linecap="butt"/>
<polyline points="371.1,127.0 374.1,130.4 377.5,136.4 381.0,138.2 384.4,139.9 387.9,143.4 392.2,146.8 396.5,149.4 400.0,151.1 402.6,153.7 406.1,155.5 409.5,156.7 413.0,155.5 416.4,154.3 419.9,155.5 423.4,154.4 428.3,151.6 432.6,151.0 437.8,151.6 442.2,152.2 445.6,150.8 449.1,151.3 452.5,150.4 455.1,151.3 457.7,150.4 462.0,151.6 466.4,150.4 470.7,148.7 473.3,147.0 475.9,143.5 478.0,142.6 481.1,144.4 484.0,145.2 486.1,145.9 488.3,147.3 491.2,144.6 495.6,143.9 500.8,145.6 505.9,146.8 510.3,149.0 513.7,151.1 518.0,149.7 523.2,148.0 528.4,147.3 533.6,146.3 537.1,144.2 540.3,141.5 543.8,139.7 547.2,139.7 550.7,137.1 555.0,137.1 559.3,135.4 563.7,131.9 568.0,129.3 572.3,126.8 575.8,125.0 579.2,124.7 582.7,122.4 585.8,119.5 587.9,120.7 591.3,116.4 593.9,114.8 596.3,114.2 600.6,113.3 605.0,112.5 609.3,110.4 612.8,108.2 616.2,106.8 619.7,107.3 623.1,106.1 626.6,106.4 629.2,105.6 632.6,106.4 636.1,105.2 639.6,104.5 642.0,103.2 644.5,104.4 646.8,103.8 649.2,103.4 652.3,106.1 654.4,103.4 657.0,101.6 659.6,100.4 662.2,98.2 663.9,99.0 666.2,98.7" fill="none" stroke="#CC0F0F" stroke-width="2.0" stroke-linejoin="round" stroke-linecap="butt"/>
<line x1="670.0" y1="29.5" x2="670.0" y2="214.6" stroke="#777" stroke-width="0.8"/>
<line x1="370.15" y1="29.5" x2="370.15" y2="214.6" stroke="#000" stroke-width="1"/>
<line x1="366.8" y1="212.5" x2="370.5" y2="212.5" stroke="#000" stroke-width="1.3"/>
<text class="t" x="365.3" y="214.2" font-size="5.0" text-anchor="end">10</text>
<line x1="368.3" y1="208.2" x2="370.5" y2="208.2" stroke="#777" stroke-width="0.8"/>
<line x1="366.8" y1="203.8" x2="370.5" y2="203.8" stroke="#000" stroke-width="1.3"/>
<text class="t" x="365.3" y="205.5" font-size="5.0" text-anchor="end">20</text>
<line x1="368.3" y1="199.5" x2="370.5" y2="199.5" stroke="#777" stroke-width="0.8"/>
<line x1="366.8" y1="195.2" x2="370.5" y2="195.2" stroke="#000" stroke-width="1.3"/>
<text class="t" x="365.3" y="196.9" font-size="5.0" text-anchor="end">30</text>
<line x1="368.3" y1="190.9" x2="370.5" y2="190.9" stroke="#777" stroke-width="0.8"/>
<line x1="366.8" y1="186.6" x2="370.5" y2="186.6" stroke="#000" stroke-width="1.3"/>
<text class="t" x="365.3" y="188.2" font-size="5.0" text-anchor="end">40</text>
<line x1="368.3" y1="182.2" x2="370.5" y2="182.2" stroke="#777" stroke-width="0.8"/>
<line x1="366.8" y1="177.9" x2="370.5" y2="177.9" stroke="#000" stroke-width="1.3"/>
<text class="t" x="365.3" y="179.6" font-size="5.0" text-anchor="end">50</text>
<line x1="368.3" y1="173.6" x2="370.5" y2="173.6" stroke="#777" stroke-width="0.8"/>
<line x1="366.8" y1="169.2" x2="370.5" y2="169.2" stroke="#000" stroke-width="1.3"/>
<text class="t" x="365.3" y="170.9" font-size="5.0" text-anchor="end">60</text>
<line x1="368.3" y1="164.9" x2="370.5" y2="164.9" stroke="#777" stroke-width="0.8"/>
<line x1="366.8" y1="160.6" x2="370.5" y2="160.6" stroke="#000" stroke-width="1.3"/>
<text class="t" x="365.3" y="162.3" font-size="5.0" text-anchor="end">70</text>
<line x1="368.3" y1="156.3" x2="370.5" y2="156.3" stroke="#777" stroke-width="0.8"/>
<line x1="366.8" y1="151.9" x2="370.5" y2="151.9" stroke="#000" stroke-width="1.3"/>
<text class="t" x="365.3" y="153.6" font-size="5.0" text-anchor="end">80</text>
<line x1="368.3" y1="147.6" x2="370.5" y2="147.6" stroke="#777" stroke-width="0.8"/>
<line x1="366.8" y1="143.3" x2="370.5" y2="143.3" stroke="#000" stroke-width="1.3"/>
<text class="t" x="365.3" y="145.0" font-size="5.0" text-anchor="end">90</text>
<line x1="368.3" y1="139.0" x2="370.5" y2="139.0" stroke="#777" stroke-width="0.8"/>
<line x1="366.8" y1="134.7" x2="370.5" y2="134.7" stroke="#000" stroke-width="1.3"/>
<text class="t" x="365.3" y="136.3" font-size="5.0" text-anchor="end">100</text>
<line x1="368.3" y1="130.3" x2="370.5" y2="130.3" stroke="#777" stroke-width="0.8"/>
<line x1="366.8" y1="126.0" x2="370.5" y2="126.0" stroke="#000" stroke-width="1.3"/>
<text class="t" x="365.3" y="127.7" font-size="5.0" text-anchor="end">110</text>
<line x1="368.3" y1="121.7" x2="370.5" y2="121.7" stroke="#777" stroke-width="0.8"/>
<line x1="366.8" y1="117.4" x2="370.5" y2="117.4" stroke="#000" stroke-width="1.3"/>
<text class="t" x="365.3" y="119.0" font-size="5.0" text-anchor="end">120</text>
<line x1="368.3" y1="113.0" x2="370.5" y2="113.0" stroke="#777" stroke-width="0.8"/>
<line x1="366.8" y1="108.7" x2="370.5" y2="108.7" stroke="#000" stroke-width="1.3"/>
<text class="t" x="365.3" y="110.4" font-size="5.0" text-anchor="end">130</text>
<line x1="368.3" y1="104.4" x2="370.5" y2="104.4" stroke="#777" stroke-width="0.8"/>
<line x1="366.8" y1="100.1" x2="370.5" y2="100.1" stroke="#000" stroke-width="1.3"/>
<text class="t" x="365.3" y="101.7" font-size="5.0" text-anchor="end">140</text>
<line x1="368.3" y1="95.7" x2="370.5" y2="95.7" stroke="#777" stroke-width="0.8"/>
<line x1="366.8" y1="91.4" x2="370.5" y2="91.4" stroke="#000" stroke-width="1.3"/>
<text class="t" x="365.3" y="93.1" font-size="5.0" text-anchor="end">150</text>
<line x1="368.3" y1="87.1" x2="370.5" y2="87.1" stroke="#777" stroke-width="0.8"/>
<line x1="366.8" y1="82.8" x2="370.5" y2="82.8" stroke="#000" stroke-width="1.3"/>
<text class="t" x="365.3" y="84.4" font-size="5.0" text-anchor="end">160</text>
<line x1="368.3" y1="78.4" x2="370.5" y2="78.4" stroke="#777" stroke-width="0.8"/>
<line x1="366.8" y1="74.1" x2="370.5" y2="74.1" stroke="#000" stroke-width="1.3"/>
<text class="t" x="365.3" y="75.8" font-size="5.0" text-anchor="end">170</text>
<line x1="368.3" y1="69.8" x2="370.5" y2="69.8" stroke="#777" stroke-width="0.8"/>
<line x1="366.8" y1="65.5" x2="370.5" y2="65.5" stroke="#000" stroke-width="1.3"/>
<text class="t" x="365.3" y="67.1" font-size="5.0" text-anchor="end">180</text>
<line x1="368.3" y1="61.1" x2="370.5" y2="61.1" stroke="#777" stroke-width="0.8"/>
<line x1="366.8" y1="56.8" x2="370.5" y2="56.8" stroke="#000" stroke-width="1.3"/>
<text class="t" x="365.3" y="58.5" font-size="5.0" text-anchor="end">190</text>
<line x1="368.3" y1="52.5" x2="370.5" y2="52.5" stroke="#777" stroke-width="0.8"/>
<line x1="366.8" y1="48.2" x2="370.5" y2="48.2" stroke="#000" stroke-width="1.3"/>
<text class="t" x="365.3" y="49.8" font-size="5.0" text-anchor="end">200</text>
<line x1="368.3" y1="43.8" x2="370.5" y2="43.8" stroke="#777" stroke-width="0.8"/>
<line x1="366.8" y1="39.5" x2="370.5" y2="39.5" stroke="#000" stroke-width="1.3"/>
<text class="t" x="365.3" y="41.1" font-size="5.0" text-anchor="end">210</text>
<line x1="368.3" y1="35.2" x2="370.5" y2="35.2" stroke="#777" stroke-width="0.8"/>
<line x1="366.8" y1="30.8" x2="370.5" y2="30.8" stroke="#000" stroke-width="1.3"/>
<text class="t" x="365.3" y="32.5" font-size="5.0" text-anchor="end">220</text>
<line x1="371.5" y1="214.7" x2="371.5" y2="217.7" stroke="#000" stroke-width="1.4"/>
<text class="t" x="371.5" y="226.7" font-size="5.5" text-anchor="middle" textLength="14" lengthAdjust="spacingAndGlyphs">JAN01</text>
<line x1="374.6" y1="214.7" x2="374.6" y2="216.2" stroke="#222" stroke-width="0.8"/>
<line x1="377.7" y1="214.7" x2="377.7" y2="216.2" stroke="#222" stroke-width="0.8"/>
<line x1="380.8" y1="214.7" x2="380.8" y2="216.2" stroke="#222" stroke-width="0.8"/>
<line x1="383.9" y1="214.7" x2="383.9" y2="216.2" stroke="#222" stroke-width="0.8"/>
<line x1="386.9" y1="214.7" x2="386.9" y2="216.2" stroke="#222" stroke-width="0.8"/>
<line x1="390.0" y1="214.7" x2="390.0" y2="217.7" stroke="#000" stroke-width="1.4"/>
<text class="t" x="390.0" y="226.7" font-size="5.5" text-anchor="middle" textLength="14" lengthAdjust="spacingAndGlyphs">JUL01</text>
<line x1="393.1" y1="214.7" x2="393.1" y2="216.2" stroke="#222" stroke-width="0.8"/>
<line x1="396.2" y1="214.7" x2="396.2" y2="216.2" stroke="#222" stroke-width="0.8"/>
<line x1="399.3" y1="214.7" x2="399.3" y2="216.2" stroke="#222" stroke-width="0.8"/>
<line x1="402.4" y1="214.7" x2="402.4" y2="216.2" stroke="#222" stroke-width="0.8"/>
<line x1="405.5" y1="214.7" x2="405.5" y2="216.2" stroke="#222" stroke-width="0.8"/>
<line x1="408.6" y1="214.7" x2="408.6" y2="217.7" stroke="#000" stroke-width="1.4"/>
<text class="t" x="408.6" y="226.7" font-size="5.5" text-anchor="middle" textLength="14" lengthAdjust="spacingAndGlyphs">JAN02</text>
<line x1="411.7" y1="214.7" x2="411.7" y2="216.2" stroke="#222" stroke-width="0.8"/>
<line x1="414.8" y1="214.7" x2="414.8" y2="216.2" stroke="#222" stroke-width="0.8"/>
<line x1="417.8" y1="214.7" x2="417.8" y2="216.2" stroke="#222" stroke-width="0.8"/>
<line x1="420.9" y1="214.7" x2="420.9" y2="216.2" stroke="#222" stroke-width="0.8"/>
<line x1="424.0" y1="214.7" x2="424.0" y2="216.2" stroke="#222" stroke-width="0.8"/>
<line x1="427.1" y1="214.7" x2="427.1" y2="217.7" stroke="#000" stroke-width="1.4"/>
<text class="t" x="427.1" y="226.7" font-size="5.5" text-anchor="middle" textLength="14" lengthAdjust="spacingAndGlyphs">JUL02</text>
<line x1="430.2" y1="214.7" x2="430.2" y2="216.2" stroke="#222" stroke-width="0.8"/>
<line x1="433.3" y1="214.7" x2="433.3" y2="216.2" stroke="#222" stroke-width="0.8"/>
<line x1="436.4" y1="214.7" x2="436.4" y2="216.2" stroke="#222" stroke-width="0.8"/>
<line x1="439.5" y1="214.7" x2="439.5" y2="216.2" stroke="#222" stroke-width="0.8"/>
<line x1="442.6" y1="214.7" x2="442.6" y2="216.2" stroke="#222" stroke-width="0.8"/>
<line x1="445.7" y1="214.7" x2="445.7" y2="217.7" stroke="#000" stroke-width="1.4"/>
<text class="t" x="445.7" y="226.7" font-size="5.5" text-anchor="middle" textLength="14" lengthAdjust="spacingAndGlyphs">JAN03</text>
<line x1="448.7" y1="214.7" x2="448.7" y2="216.2" stroke="#222" stroke-width="0.8"/>
<line x1="451.8" y1="214.7" x2="451.8" y2="216.2" stroke="#222" stroke-width="0.8"/>
<line x1="454.9" y1="214.7" x2="454.9" y2="216.2" stroke="#222" stroke-width="0.8"/>
<line x1="458.0" y1="214.7" x2="458.0" y2="216.2" stroke="#222" stroke-width="0.8"/>
<line x1="461.1" y1="214.7" x2="461.1" y2="216.2" stroke="#222" stroke-width="0.8"/>
<line x1="464.2" y1="214.7" x2="464.2" y2="217.7" stroke="#000" stroke-width="1.4"/>
<text class="t" x="464.2" y="226.7" font-size="5.5" text-anchor="middle" textLength="14" lengthAdjust="spacingAndGlyphs">JUL03</text>
<line x1="467.3" y1="214.7" x2="467.3" y2="216.2" stroke="#222" stroke-width="0.8"/>
<line x1="470.4" y1="214.7" x2="470.4" y2="216.2" stroke="#222" stroke-width="0.8"/>
<line x1="473.5" y1="214.7" x2="473.5" y2="216.2" stroke="#222" stroke-width="0.8"/>
<line x1="476.6" y1="214.7" x2="476.6" y2="216.2" stroke="#222" stroke-width="0.8"/>
<line x1="479.6" y1="214.7" x2="479.6" y2="216.2" stroke="#222" stroke-width="0.8"/>
<line x1="482.7" y1="214.7" x2="482.7" y2="217.7" stroke="#000" stroke-width="1.4"/>
<text class="t" x="482.7" y="226.7" font-size="5.5" text-anchor="middle" textLength="14" lengthAdjust="spacingAndGlyphs">JAN04</text>
<line x1="485.8" y1="214.7" x2="485.8" y2="216.2" stroke="#222" stroke-width="0.8"/>
<line x1="488.9" y1="214.7" x2="488.9" y2="216.2" stroke="#222" stroke-width="0.8"/>
<line x1="492.0" y1="214.7" x2="492.0" y2="216.2" stroke="#222" stroke-width="0.8"/>
<line x1="495.1" y1="214.7" x2="495.1" y2="216.2" stroke="#222" stroke-width="0.8"/>
<line x1="498.2" y1="214.7" x2="498.2" y2="216.2" stroke="#222" stroke-width="0.8"/>
<line x1="501.3" y1="214.7" x2="501.3" y2="217.7" stroke="#000" stroke-width="1.4"/>
<text class="t" x="501.3" y="226.7" font-size="5.5" text-anchor="middle" textLength="14" lengthAdjust="spacingAndGlyphs">JUL04</text>
<line x1="504.4" y1="214.7" x2="504.4" y2="216.2" stroke="#222" stroke-width="0.8"/>
<line x1="507.5" y1="214.7" x2="507.5" y2="216.2" stroke="#222" stroke-width="0.8"/>
<line x1="510.5" y1="214.7" x2="510.5" y2="216.2" stroke="#222" stroke-width="0.8"/>
<line x1="513.6" y1="214.7" x2="513.6" y2="216.2" stroke="#222" stroke-width="0.8"/>
<line x1="516.7" y1="214.7" x2="516.7" y2="216.2" stroke="#222" stroke-width="0.8"/>
<line x1="519.8" y1="214.7" x2="519.8" y2="217.7" stroke="#000" stroke-width="1.4"/>
<text class="t" x="519.8" y="226.7" font-size="5.5" text-anchor="middle" textLength="14" lengthAdjust="spacingAndGlyphs">JAN05</text>
<line x1="522.9" y1="214.7" x2="522.9" y2="216.2" stroke="#222" stroke-width="0.8"/>
<line x1="526.0" y1="214.7" x2="526.0" y2="216.2" stroke="#222" stroke-width="0.8"/>
<line x1="529.1" y1="214.7" x2="529.1" y2="216.2" stroke="#222" stroke-width="0.8"/>
<line x1="532.2" y1="214.7" x2="532.2" y2="216.2" stroke="#222" stroke-width="0.8"/>
<line x1="535.3" y1="214.7" x2="535.3" y2="216.2" stroke="#222" stroke-width="0.8"/>
<line x1="538.4" y1="214.7" x2="538.4" y2="217.7" stroke="#000" stroke-width="1.4"/>
<text class="t" x="538.4" y="226.7" font-size="5.5" text-anchor="middle" textLength="14" lengthAdjust="spacingAndGlyphs">JUL05</text>
<line x1="541.5" y1="214.7" x2="541.5" y2="216.2" stroke="#222" stroke-width="0.8"/>
<line x1="544.5" y1="214.7" x2="544.5" y2="216.2" stroke="#222" stroke-width="0.8"/>
<line x1="547.6" y1="214.7" x2="547.6" y2="216.2" stroke="#222" stroke-width="0.8"/>
<line x1="550.7" y1="214.7" x2="550.7" y2="216.2" stroke="#222" stroke-width="0.8"/>
<line x1="553.8" y1="214.7" x2="553.8" y2="216.2" stroke="#222" stroke-width="0.8"/>
<line x1="556.9" y1="214.7" x2="556.9" y2="217.7" stroke="#000" stroke-width="1.4"/>
<text class="t" x="556.9" y="226.7" font-size="5.5" text-anchor="middle" textLength="14" lengthAdjust="spacingAndGlyphs">JAN06</text>
<line x1="560.0" y1="214.7" x2="560.0" y2="216.2" stroke="#222" stroke-width="0.8"/>
<line x1="563.1" y1="214.7" x2="563.1" y2="216.2" stroke="#222" stroke-width="0.8"/>
<line x1="566.2" y1="214.7" x2="566.2" y2="216.2" stroke="#222" stroke-width="0.8"/>
<line x1="569.3" y1="214.7" x2="569.3" y2="216.2" stroke="#222" stroke-width="0.8"/>
<line x1="572.4" y1="214.7" x2="572.4" y2="216.2" stroke="#222" stroke-width="0.8"/>
<line x1="575.4" y1="214.7" x2="575.4" y2="217.7" stroke="#000" stroke-width="1.4"/>
<text class="t" x="575.4" y="226.7" font-size="5.5" text-anchor="middle" textLength="14" lengthAdjust="spacingAndGlyphs">JUL06</text>
<line x1="578.5" y1="214.7" x2="578.5" y2="216.2" stroke="#222" stroke-width="0.8"/>
<line x1="581.6" y1="214.7" x2="581.6" y2="216.2" stroke="#222" stroke-width="0.8"/>
<line x1="584.7" y1="214.7" x2="584.7" y2="216.2" stroke="#222" stroke-width="0.8"/>
<line x1="587.8" y1="214.7" x2="587.8" y2="216.2" stroke="#222" stroke-width="0.8"/>
<line x1="590.9" y1="214.7" x2="590.9" y2="216.2" stroke="#222" stroke-width="0.8"/>
<line x1="594.0" y1="214.7" x2="594.0" y2="217.7" stroke="#000" stroke-width="1.4"/>
<text class="t" x="594.0" y="226.7" font-size="5.5" text-anchor="middle" textLength="14" lengthAdjust="spacingAndGlyphs">JAN07</text>
<line x1="597.1" y1="214.7" x2="597.1" y2="216.2" stroke="#222" stroke-width="0.8"/>
<line x1="600.2" y1="214.7" x2="600.2" y2="216.2" stroke="#222" stroke-width="0.8"/>
<line x1="603.2" y1="214.7" x2="603.2" y2="216.2" stroke="#222" stroke-width="0.8"/>
<line x1="606.3" y1="214.7" x2="606.3" y2="216.2" stroke="#222" stroke-width="0.8"/>
<line x1="609.4" y1="214.7" x2="609.4" y2="216.2" stroke="#222" stroke-width="0.8"/>
<line x1="612.5" y1="214.7" x2="612.5" y2="217.7" stroke="#000" stroke-width="1.4"/>
<text class="t" x="612.5" y="226.7" font-size="5.5" text-anchor="middle" textLength="14" lengthAdjust="spacingAndGlyphs">JUL07</text>
<line x1="615.6" y1="214.7" x2="615.6" y2="216.2" stroke="#222" stroke-width="0.8"/>
<line x1="618.7" y1="214.7" x2="618.7" y2="216.2" stroke="#222" stroke-width="0.8"/>
<line x1="621.8" y1="214.7" x2="621.8" y2="216.2" stroke="#222" stroke-width="0.8"/>
<line x1="624.9" y1="214.7" x2="624.9" y2="216.2" stroke="#222" stroke-width="0.8"/>
<line x1="628.0" y1="214.7" x2="628.0" y2="216.2" stroke="#222" stroke-width="0.8"/>
<line x1="631.1" y1="214.7" x2="631.1" y2="217.7" stroke="#000" stroke-width="1.4"/>
<text class="t" x="631.1" y="226.7" font-size="5.5" text-anchor="middle" textLength="14" lengthAdjust="spacingAndGlyphs">JAN08</text>
<line x1="634.1" y1="214.7" x2="634.1" y2="216.2" stroke="#222" stroke-width="0.8"/>
<line x1="637.2" y1="214.7" x2="637.2" y2="216.2" stroke="#222" stroke-width="0.8"/>
<line x1="640.3" y1="214.7" x2="640.3" y2="216.2" stroke="#222" stroke-width="0.8"/>
<line x1="643.4" y1="214.7" x2="643.4" y2="216.2" stroke="#222" stroke-width="0.8"/>
<line x1="646.5" y1="214.7" x2="646.5" y2="216.2" stroke="#222" stroke-width="0.8"/>
<line x1="649.6" y1="214.7" x2="649.6" y2="217.7" stroke="#000" stroke-width="1.4"/>
<text class="t" x="649.6" y="226.7" font-size="5.5" text-anchor="middle" textLength="14" lengthAdjust="spacingAndGlyphs">JUL08</text>
<line x1="652.7" y1="214.7" x2="652.7" y2="216.2" stroke="#222" stroke-width="0.8"/>
<line x1="655.8" y1="214.7" x2="655.8" y2="216.2" stroke="#222" stroke-width="0.8"/>
<line x1="658.9" y1="214.7" x2="658.9" y2="216.2" stroke="#222" stroke-width="0.8"/>
<line x1="662.0" y1="214.7" x2="662.0" y2="216.2" stroke="#222" stroke-width="0.8"/>
<line x1="665.0" y1="214.7" x2="665.0" y2="216.2" stroke="#222" stroke-width="0.8"/>
<line x1="668.1" y1="214.7" x2="668.1" y2="217.7" stroke="#000" stroke-width="1.4"/>
<text class="t" x="668.1" y="226.7" font-size="5.5" text-anchor="middle" textLength="14" lengthAdjust="spacingAndGlyphs">JAN09</text>
</svg></body></html>
